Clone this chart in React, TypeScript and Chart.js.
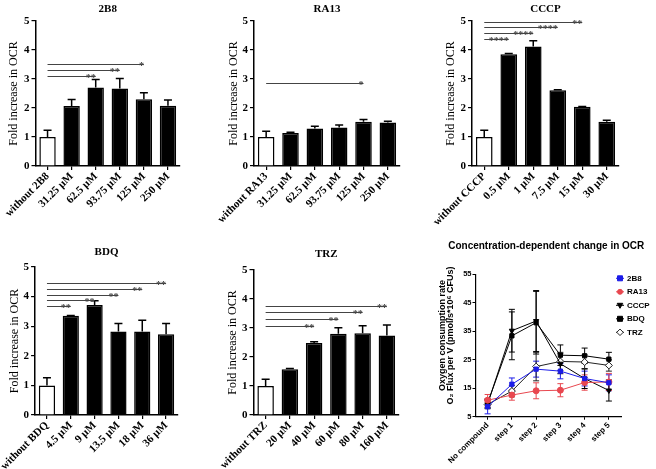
import React, { useEffect, useRef } from 'react';
import { Chart, registerables } from 'chart.js';

Chart.register(...registerables);

const SERIF = "'Liberation Serif', 'Times New Roman', serif";
const SANS = "'Liberation Sans', Arial, sans-serif";

type Sig = { to: number; level: number; label: string };

// ---------- Panel data ----------
const labels2B8 = ['without 2B8', '31.25 μM', '62.5 μM', '93.75 μM', '125 μM', '250 μM'];
const values2B8 = [1.0, 2.07, 2.71, 2.67, 2.3, 2.08];
const errors2B8 = [0.23, 0.22, 0.27, 0.35, 0.23, 0.2];
const sig2B8: Sig[] = [
  { to: 2, level: 3.11, label: '**' },
  { to: 3, level: 3.31, label: '**' },
  { to: 4, level: 3.52, label: '*' },
];

const labelsRA13 = ['without RA13', '31.25 μM', '62.5 μM', '93.75 μM', '125 μM', '250 μM'];
const valuesRA13 = [1.0, 1.14, 1.29, 1.33, 1.53, 1.5];
const errorsRA13 = [0.2, 0.02, 0.08, 0.08, 0.07, 0.04];
const sigRA13: Sig[] = [{ to: 4, level: 2.86, label: '*' }];

const labelsCCCP = ['without CCCP', '0.5 μM', '1 μM', '7.5 μM', '15 μM', '30 μM'];
const valuesCCCP = [1.0, 3.85, 4.12, 2.61, 2.04, 1.53];
const errorsCCCP = [0.23, 0.03, 0.2, 0.02, 0.01, 0.05];
const sigCCCP: Sig[] = [
  { to: 1, level: 4.39, label: '****' },
  { to: 2, level: 4.6, label: '****' },
  { to: 3, level: 4.8, label: '****' },
  { to: 4, level: 4.95, label: '**' },
];

const labelsBDQ = ['without BDQ', '4.5 μM', '9 μM', '13.5 μM', '18 μM', '36 μM'];
const valuesBDQ = [1.0, 3.35, 3.72, 2.82, 2.82, 2.73];
const errorsBDQ = [0.26, 0.01, 0.14, 0.27, 0.38, 0.36];
const sigBDQ: Sig[] = [
  { to: 1, level: 3.68, label: '**' },
  { to: 2, level: 3.87, label: '**' },
  { to: 3, level: 4.07, label: '**' },
  { to: 4, level: 4.27, label: '**' },
  { to: 5, level: 4.46, label: '**' },
];

const labelsTRZ = ['without TRZ', '20 μM', '40 μM', '60 μM', '80 μM', '160 μM'];
const valuesTRZ = [1.0, 1.58, 2.48, 2.8, 2.82, 2.74];
const errorsTRZ = [0.23, 0.02, 0.05, 0.21, 0.26, 0.36];
const sigTRZ: Sig[] = [
  { to: 2, level: 3.07, label: '**' },
  { to: 3, level: 3.3, label: '**' },
  { to: 4, level: 3.54, label: '**' },
  { to: 5, level: 3.77, label: '**' },
];

const barYTicks = [0, 1, 2, 3, 4, 5];

// ---------- Line chart data ----------
const lineLabels = ['No compound', 'step 1', 'step 2', 'step 3', 'step 4', 'step 5'];
const line2B8 = [8.5, 16.4, 21.7, 21.0, 18.4, 16.9];
const err2B8 = [2.5, 2.2, 2.8, 2.7, 2.6, 2.8];
const lineRA13 = [10.8, 12.6, 14.1, 14.3, 17.0, 17.2];
const errRA13 = [2.0, 1.8, 2.8, 2.3, 2.7, 3.0];
const lineCCCP = [9.5, 35.2, 38.6, 23.6, 18.4, 14.2];
const errCCCP = [1.5, 7.5, 10.7, 3.5, 3.5, 3.7];
const lineBDQ = [9.8, 33.4, 38.0, 26.6, 26.4, 25.2];
const errBDQ = [1.5, 8.4, 11.0, 3.6, 2.7, 2.4];
const lineTRZ = [9.3, 14.0, 22.6, 24.4, 24.2, 23.0];
const errTRZ = [1.5, 2.0, 5.0, 3.2, 2.5, 2.0];
const lineYTicks = [5, 15, 25, 35, 45, 55];

type Box = { l: number; t: number; w: number; h: number };
type Area = { l: number; t: number; r: number; b: number };

interface BarProps {
  title: string;
  labels: string[];
  values: number[];
  errors: number[];
  sig: Sig[];
  box: Box;
  area: Area;
  titleGap: number;
  yTitlePad: number;
}

function BarPanel(p: BarProps) {
  const ref = useRef<HTMLCanvasElement | null>(null);
  useEffect(() => {
    if (!ref.current) return;
    const { box, area } = p;
    const errorPlugin = {
      id: 'errBars',
      afterDatasetsDraw(chart: any) {
        const ctx = chart.ctx;
        const y = chart.scales.y;
        const meta = chart.getDatasetMeta(0);
        ctx.save();
        ctx.strokeStyle = '#000';
        ctx.lineWidth = 1.5;
        meta.data.forEach((el: any, i: number) => {
          const top = y.getPixelForValue(p.values[i] + p.errors[i]);
          ctx.beginPath();
          ctx.moveTo(el.x, el.y);
          ctx.lineTo(el.x, top);
          ctx.moveTo(el.x - 4, top);
          ctx.lineTo(el.x + 4, top);
          ctx.stroke();
        });
        ctx.restore();
      },
    };
    const sigPlugin = {
      id: 'sigLines',
      afterDatasetsDraw(chart: any) {
        const ctx = chart.ctx;
        const xs = chart.scales.x;
        const ys = chart.scales.y;
        ctx.save();
        ctx.strokeStyle = '#444';
        ctx.fillStyle = '#444';
        ctx.lineWidth = 1;
        ctx.font = `bold 10px ${SERIF}`;
        ctx.textAlign = 'right';
        ctx.textBaseline = 'alphabetic';
        p.sig.forEach((s) => {
          const x0 = xs.getPixelForValue(0);
          const x1 = xs.getPixelForValue(s.to);
          const yy = Math.round(ys.getPixelForValue(s.level)) + 0.5;
          ctx.beginPath();
          ctx.moveTo(x0, yy);
          ctx.lineTo(x1, yy);
          ctx.stroke();
          ctx.fillText(s.label, x1, yy + 4);
        });
        ctx.restore();
      },
    };
    const titlePlugin = {
      id: 'panelTitle',
      afterDraw(chart: any) {
        const a = chart.chartArea;
        const ctx = chart.ctx;
        ctx.save();
        ctx.fillStyle = '#000';
        ctx.font = `bold 11px ${SERIF}`;
        ctx.textAlign = 'center';
        ctx.textBaseline = 'middle';
        ctx.fillText(p.title, (a.left + a.right) / 2, a.top - p.titleGap);
        ctx.restore();
      },
    };
    const chart = new Chart(ref.current, {
      type: 'bar',
      data: {
        labels: p.labels,
        datasets: [
          {
            data: p.values,
            backgroundColor: p.values.map((_, i) => (i === 0 ? '#fff' : '#000')),
            borderColor: '#000',
            borderWidth: 1.5,
            barPercentage: 0.68,
            categoryPercentage: 1,
          },
        ],
      },
      options: {
        animation: false,
        responsive: false,
        maintainAspectRatio: false,
        layout: { padding: { left: 0, top: area.t - box.t, right: box.l + box.w - area.r, bottom: 0 } },
        scales: {
          x: {
            offset: true,
            grid: { display: true, drawOnChartArea: false, offset: false, tickLength: 4, color: '#000', lineWidth: 1.2 },
            border: { display: true, color: '#000', width: 1.5 },
            ticks: {
              color: '#000',
              font: { family: SERIF, size: 11, weight: 'bold' },
              minRotation: 45,
              maxRotation: 45,
              autoSkip: false,
              padding: 0,
            },
            afterFit: (s: any) => {
              s.height = box.t + box.h - area.b;
            },
          },
          y: {
            min: 0,
            max: 5,
            afterBuildTicks: (s: any) => {
              s.ticks = barYTicks.map((v) => ({ value: v }));
            },
            ticks: { color: '#000', font: { family: SERIF, size: 11, weight: 'bold' }, padding: 2 },
            grid: { display: true, drawOnChartArea: false, tickLength: 4, color: '#000', lineWidth: 1.2 },
            border: { display: true, color: '#000', width: 1.5 },
            title: {
              display: true,
              text: 'Fold increase in OCR',
              color: '#000',
              font: { family: SERIF, size: 12 },
              padding: { top: p.yTitlePad, bottom: 0 },
            },
            afterFit: (s: any) => {
              s.width = area.l - box.l;
            },
          },
        },
        plugins: { legend: { display: false }, tooltip: { enabled: false }, title: { display: false } },
      } as any,
      plugins: [errorPlugin, sigPlugin, titlePlugin],
    });
    return () => chart.destroy();
  }, []);
  return (
    <canvas
      ref={ref}
      width={p.box.w}
      height={p.box.h}
      style={{ position: 'absolute', left: p.box.l, top: p.box.t, width: p.box.w, height: p.box.h }}
    />
  );
}

function drawMarker(ctx: any, style: string, x: number, y: number, r: number, rot: number, fill: string, stroke: string) {
  ctx.save();
  ctx.translate(x, y);
  ctx.rotate(((rot || 0) * Math.PI) / 180);
  ctx.beginPath();
  if (style === 'rect') ctx.rect(-r, -r, 2 * r, 2 * r);
  else if (style === 'circle') ctx.arc(0, 0, r, 0, Math.PI * 2);
  else if (style === 'triangle') {
    ctx.moveTo(0, -r * 1.2);
    ctx.lineTo(r * 1.1, r * 0.8);
    ctx.lineTo(-r * 1.1, r * 0.8);
    ctx.closePath();
  } else if (style === 'rectRot') {
    ctx.moveTo(0, -r * 1.3);
    ctx.lineTo(r * 1.3, 0);
    ctx.lineTo(0, r * 1.3);
    ctx.lineTo(-r * 1.3, 0);
    ctx.closePath();
  }
  ctx.fillStyle = fill;
  ctx.fill();
  ctx.strokeStyle = stroke;
  ctx.lineWidth = 1;
  ctx.stroke();
  ctx.restore();
}

function LinePanel() {
  const ref = useRef<HTMLCanvasElement | null>(null);
  const box: Box = { l: 420, t: 230, w: 236, h: 239 };
  const area: Area = { l: 475.5, t: 274.3, r: 621, b: 416.7 };
  useEffect(() => {
    if (!ref.current) return;
    const errs = [err2B8, errRA13, errCCCP, errBDQ, errTRZ];
    const errPlugin = {
      id: 'lineErr',
      beforeDatasetsDraw(chart: any) {
        const ctx = chart.ctx;
        const ys = chart.scales.y;
        chart.data.datasets.forEach((ds: any, di: number) => {
          const meta = chart.getDatasetMeta(di);
          ctx.save();
          ctx.strokeStyle = ds.errorColor;
          ctx.lineWidth = 1;
          meta.data.forEach((el: any, i: number) => {
            const v = ds.data[i];
            const e = errs[di][i];
            const t = ys.getPixelForValue(v + e);
            const b = ys.getPixelForValue(v - e);
            ctx.beginPath();
            ctx.moveTo(el.x, t);
            ctx.lineTo(el.x, b);
            ctx.moveTo(el.x - 3, t);
            ctx.lineTo(el.x + 3, t);
            ctx.moveTo(el.x - 3, b);
            ctx.lineTo(el.x + 3, b);
            ctx.stroke();
          });
          ctx.restore();
        });
      },
    };
    const decoPlugin = {
      id: 'lineDeco',
      afterDraw(chart: any) {
        const ctx = chart.ctx;
        const a = chart.chartArea;
        ctx.save();
        // title
        ctx.fillStyle = '#000';
        ctx.font = `bold 10px ${SANS}`;
        ctx.textAlign = 'center';
        ctx.textBaseline = 'middle';
        ctx.fillText('Concentration-dependent change in OCR', (a.left + a.right) / 2 - 2, a.top - 28);
        // y title
        const cy = (a.top + a.bottom) / 2 - 10;
        ctx.font = `bold 9px ${SANS}`;
        ctx.save();
        ctx.translate(a.left - 32.5, cy);
        ctx.rotate(-Math.PI / 2);
        ctx.fillText('Oxygen consumption rate', 0, 0);
        ctx.restore();
        ctx.save();
        ctx.translate(a.left - 24.5, cy);
        ctx.rotate(-Math.PI / 2);
        ctx.fillText('O₂ Flux per V (pmol/s*10⁶ CFUs)', 0, 0);
        ctx.restore();
        // legend
        chart.data.datasets.forEach((ds: any, i: number) => {
          const x = a.right - 1;
          const y = a.top + 4 + i * 13.5;
          ctx.strokeStyle = ds.borderColor;
          ctx.lineWidth = 1;
          ctx.beginPath();
          ctx.moveTo(x - 4, y);
          ctx.lineTo(x + 4, y);
          ctx.stroke();
          drawMarker(ctx, ds.pointStyle, x, y, 2.5, ds.pointRotation, ds.pointBackgroundColor, ds.pointBorderColor);
          ctx.fillStyle = '#000';
          ctx.font = `bold 8px ${SANS}`;
          ctx.textAlign = 'left';
          ctx.textBaseline = 'middle';
          ctx.fillText(ds.label, x + 7, y);
        });
        ctx.restore();
      },
    };
    const mk = (label: string, data: number[], color: string, style: string, fill: string, rot = 0) => ({
      label,
      data,
      borderColor: color,
      errorColor: color,
      backgroundColor: fill,
      pointBackgroundColor: fill,
      pointBorderColor: color,
      pointStyle: style,
      pointRotation: rot,
      pointRadius: style === 'rectRot' ? 3.5 : 3,
      borderWidth: 1,
      pointBorderWidth: 1,
      tension: 0,
    });
    const chart = new Chart(ref.current, {
      type: 'line',
      data: {
        labels: lineLabels,
        datasets: [
          mk('2B8', line2B8, '#1c1ce8', 'rect', '#1c1ce8'),
          mk('RA13', lineRA13, '#e8474f', 'circle', '#e8474f'),
          mk('CCCP', lineCCCP, '#000', 'triangle', '#000', 180),
          mk('BDQ', lineBDQ, '#000', 'rect', '#000'),
          mk('TRZ', lineTRZ, '#222', 'rectRot', '#fff'),
        ] as any,
      },
      options: {
        animation: false,
        responsive: false,
        maintainAspectRatio: false,
        layout: { padding: { left: 0, top: area.t - box.t, right: box.l + box.w - area.r, bottom: 0 } },
        scales: {
          x: {
            offset: true,
            grid: { display: true, drawOnChartArea: false, offset: false, tickLength: 3, color: '#000', lineWidth: 1 },
            border: { display: true, color: '#000', width: 1.2 },
            ticks: {
              color: '#000',
              font: { family: SANS, size: 8, weight: 'bold' },
              minRotation: 45,
              maxRotation: 45,
              autoSkip: false,
              padding: 1,
            },
            afterFit: (s: any) => {
              s.height = box.t + box.h - area.b;
            },
          },
          y: {
            min: 5,
            max: 55,
            afterBuildTicks: (s: any) => {
              s.ticks = lineYTicks.map((v) => ({ value: v }));
            },
            ticks: { color: '#000', font: { family: SANS, size: 7.5, weight: 'bold' }, padding: 1 },
            grid: { display: true, drawOnChartArea: false, tickLength: 3, color: '#000', lineWidth: 1 },
            border: { display: true, color: '#000', width: 1.2 },
            afterFit: (s: any) => {
              s.width = area.l - box.l;
            },
          },
        },
        plugins: { legend: { display: false }, tooltip: { enabled: false }, title: { display: false } },
      } as any,
      plugins: [errPlugin, decoPlugin],
    });
    return () => chart.destroy();
  }, []);
  return (
    <canvas
      ref={ref}
      width={box.w}
      height={box.h}
      style={{ position: 'absolute', left: box.l, top: box.t, width: box.w, height: box.h }}
    />
  );
}

export default function App() {
  return (
    <div
      style={{
        position: 'fixed',
        left: 0,
        top: 0,
        width: 656,
        height: 469,
        background: '#fff',
        overflow: 'hidden',
      }}
    >
      <BarPanel
        title="2B8"
        labels={labels2B8}
        values={values2B8}
        errors={errors2B8}
        sig={sig2B8}
        box={{ l: 0, t: 0, w: 220, h: 230 }}
        area={{ l: 35.5, t: 21, r: 180, b: 166 }}
        titleGap={12}
        yTitlePad={6.3}
      />
      <BarPanel
        title="RA13"
        labels={labelsRA13}
        values={valuesRA13}
        errors={errorsRA13}
        sig={sigRA13}
        box={{ l: 200, t: 0, w: 220, h: 230 }}
        area={{ l: 254, t: 21, r: 400, b: 166 }}
        titleGap={12}
        yTitlePad={26.3}
      />
      <BarPanel
        title="CCCP"
        labels={labelsCCCP}
        values={valuesCCCP}
        errors={errorsCCCP}
        sig={sigCCCP}
        box={{ l: 420, t: 0, w: 236, h: 230 }}
        area={{ l: 472, t: 21, r: 619, b: 166 }}
        titleGap={12}
        yTitlePad={23.8}
      />
      <BarPanel
        title="BDQ"
        labels={labelsBDQ}
        values={valuesBDQ}
        errors={errorsBDQ}
        sig={sigBDQ}
        box={{ l: 0, t: 230, w: 220, h: 239 }}
        area={{ l: 32, t: 267, r: 178, b: 415 }}
        titleGap={15.3}
        yTitlePad={4.5}
      />
      <BarPanel
        title="TRZ"
        labels={labelsTRZ}
        values={valuesTRZ}
        errors={errorsTRZ}
        sig={sigTRZ}
        box={{ l: 200, t: 230, w: 220, h: 239 }}
        area={{ l: 253.5, t: 270, r: 399, b: 415 }}
        titleGap={16}
        yTitlePad={25.5}
      />
      <LinePanel />
    </div>
  );
}
